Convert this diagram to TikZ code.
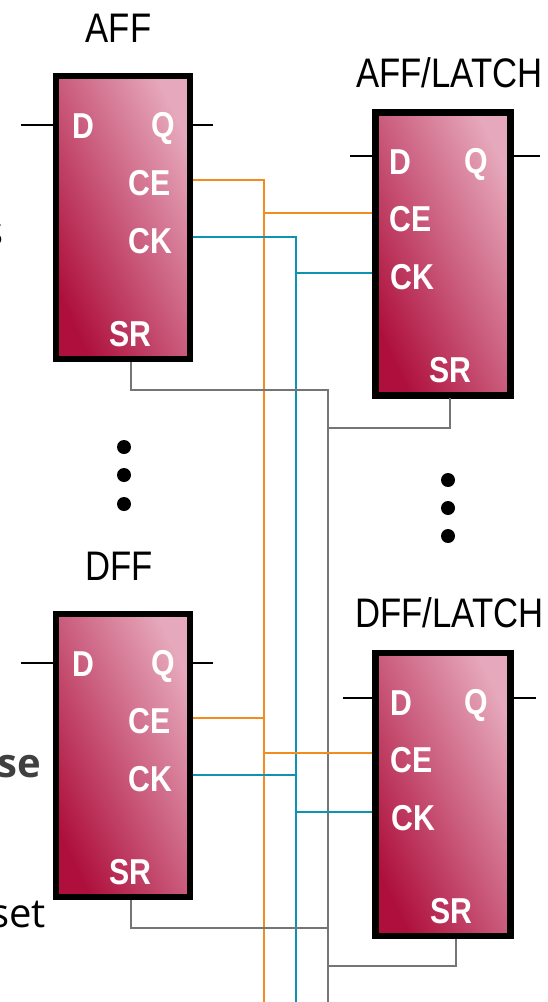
\documentclass[tikz,border=0pt]{standalone}
\usepackage{fontspec}
\setmainfont{Liberation Sans}
\newfontfamily\narrowfont[FakeStretch=0.84]{Liberation Sans}
\newfontfamily\sidefont{Open Sans}
\usetikzlibrary{positioning}
\definecolor{ceorange}{HTML}{F28C1E}
\definecolor{ckteal}{HTML}{0E93B0}
\definecolor{srgray}{HTML}{757575}
\definecolor{ffdark}{HTML}{AE0F3C}
\definecolor{fflight}{HTML}{E6A8BC}

\begin{document}
\begin{tikzpicture}[x=1pt,y=-1pt]

	\tikzset{
		ffbox/.style={
				rectangle, draw=black, line width=6.4pt, minimum width=134pt, minimum height=283pt, inner sep=0pt,
				bottom color=ffdark, top color=fflight, shading angle=-65
			},
		port/.style={
				text=white, font=\narrowfont\bfseries\fontsize{36}{36}\selectfont, inner sep=0pt
			},
		title/.style={
				text=black, font=\narrowfont\fontsize{41.3}{41}\selectfont, inner sep=0pt
			},
		side/.style={
				anchor=east, inner sep=0pt, font=\sidefont\fontsize{40}{40}\selectfont
			},
		vdot/.style={
				circle, fill=black, inner sep=0pt, minimum size=14pt
			},
		stub/.style={line width=2.8pt, black},
		cewire/.style={line width=2.8pt, ceorange},
		ckwire/.style={line width=2.8pt, ckteal},
		srwire/.style={line width=2.8pt, srgray},
	}

	\useasboundingbox (0,0) rectangle (548,1002);

	% boxes
	\node[ffbox](a1) at (123,217.5){};
	\node[ffbox, minimum width=135pt](a2) at (443,254){};
	\node[ffbox](d1) at (123,755.5){};
	\node[ffbox, minimum width=135pt](d2) at (443,794.5){};

	\node[title] (t1) at (118.5,28) {AFF};
	\node[title] (t2) at (449.5,73) {AFF/LATCH};
	\node[title] (t3) at (119,566) {DFF};
	\node[title] (t4) at (449.5,613) {DFF/LATCH};

	\node[port] (a1D) at (83.5,126) {D};
	\node[port] (a1Q) at (163.5,128) {Q};
	\node[port] (a1CE) at (149.5,183) {CE};
	\node[port] (a1CK) at (150.5,241) {CK};
	\node[port] (a1SR) at (130.5,334) {SR};

	\node[port] (a2D) at (400.5,162) {D};
	\node[port] (a2Q) at (476.5,164) {Q};
	\node[port] (a2CE) at (410.5,219) {CE};
	\node[port] (a2CK) at (412.5,277) {CK};
	\node[port] (a2SR) at (450.5,370) {SR};

	\node[port] (d1D) at (83.5,664) {D};
	\node[port] (d1Q) at (163.5,666) {Q};
	\node[port] (d1CE) at (149.5,721) {CE};
	\node[port] (d1CK) at (150.5,779) {CK};
	\node[port] (d1SR) at (130.5,872) {SR};

	\node[port] (d2D) at (401.5,703) {D};
	\node[port] (d2Q) at (476.5,705) {Q};
	\node[port] (d2CE) at (411.5,760) {CE};
	\node[port] (d2CK) at (413.5,818) {CK};
	\node[port] (d2SR) at (451.5,911) {SR};

	\node[vdot] (v11) at (124,447) {};
	\node[vdot] (v12) at (124,475) {};
	\node[vdot] (v13) at (124,504) {};
	\node[vdot] (v21) at (448,480) {};
	\node[vdot] (v22) at (448,508) {};
	\node[vdot] (v23) at (448,536) {};

	\node[side, text=black] (s1) at (4,235) {s};
	\node[side, text=black!75, font=\sidefont\bfseries\fontsize{40}{40}\selectfont] (s2) at (41,767) {se};
	\node[side, text=black] (s3) at (46,915) {set};

	% data stubs
	\coordinate (a1Din) at (21,125);
	\coordinate (a1Qout) at (213,125);
	\coordinate (a2Din) at (350,156);
	\coordinate (a2Qout) at (540,156);
	\coordinate (d1Din) at (21,663);
	\coordinate (d1Qout) at (213,663);
	\coordinate (d2Din) at (343,698);
	\coordinate (d2Qout) at (536,698);
	\draw[stub] (a1Din) -- (a1Din -| a1.west);
	\draw[stub] (a1Qout) -- (a1Qout -| a1.east);
	\draw[stub] (a2Din) -- (a2Din -| a2.west);
	\draw[stub] (a2Qout) -- (a2Qout -| a2.east);
	\draw[stub] (d1Din) -- (d1Din -| d1.west);
	\draw[stub] (d1Qout) -- (d1Qout -| d1.east);
	\draw[stub] (d2Din) -- (d2Din -| d2.west);
	\draw[stub] (d2Qout) -- (d2Qout -| d2.east);

	% buses
	\coordinate (cetop) at (264,180);
	\coordinate (ceend) at (264,1002);
	\coordinate (cktop) at (296,237);
	\coordinate (ckend) at (296,1002);
	\coordinate (srtop) at (328,390);
	\coordinate (srend) at (328,1002);
	\coordinate (sra1) at (131,362);
	\draw[cewire] (a1.east |- cetop) -- (cetop) -- (ceend);
	\draw[ckwire] (a1.east |- cktop) -- (cktop) -- (ckend);
	\draw[srwire] (sra1) |- (srtop) -- (srend);

	\coordinate (cea2) at (264,213);
	\coordinate (cka2) at (296,273);
	\coordinate (srj2) at (328,428);
	\coordinate (sra2) at (450,398);
	\draw[cewire] (cea2) -- (cea2 -| a2.west);
	\draw[ckwire] (cka2) -- (cka2 -| a2.west);
	\draw[srwire] (sra2) |- (srj2);

	\coordinate (ced1) at (264,718);
	\coordinate (ckd1) at (296,775);
	\coordinate (srj3) at (328,928);
	\coordinate (srd1) at (131,900);
	\draw[cewire] (d1.east |- ced1) -- (ced1);
	\draw[ckwire] (d1.east |- ckd1) -- (ckd1);
	\draw[srwire] (srd1) |- (srj3);

	\coordinate (ced2) at (264,753);
	\coordinate (ckd2) at (296,812);
	\coordinate (srj4) at (328,966);
	\coordinate (srd2) at (456,939);
	\draw[cewire] (ced2) -- (ced2 -| d2.west);
	\draw[ckwire] (ckd2) -- (ckd2 -| d2.west);
	\draw[srwire] (srd2) |- (srj4);
\end{tikzpicture}
\end{document}
